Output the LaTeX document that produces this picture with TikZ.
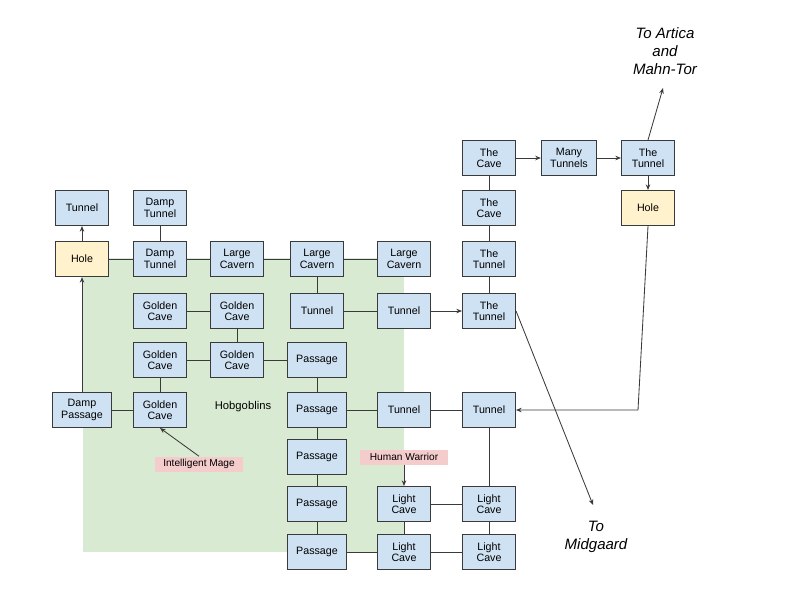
\documentclass[tikz,border=0pt]{standalone}
\usepackage{fontspec}
\setmainfont{Liberation Sans}
\usepackage{tikz}
\usetikzlibrary{arrows.meta,positioning}
\definecolor{boxblue}{HTML}{CFE2F3}
\definecolor{holeyellow}{HTML}{FFF2CC}
\definecolor{zonegreen}{HTML}{D9EAD3}
\definecolor{tagred}{HTML}{F4CCCC}
\definecolor{edgegray}{HTML}{3A3A3A}

\begin{document}
\begin{tikzpicture}[
  x=0.025cm, y=-0.025cm,
  room/.style={draw=edgegray, line width=0.75pt, fill=boxblue, minimum width=1.325cm, minimum height=0.875cm, inner xsep=0.22cm, inner ysep=0pt, align=center, font=\fontsize{7.6}{8.2}\selectfont},
  hole/.style={room, fill=holeyellow},
  tag/.style={fill=tagred, minimum width=2.2cm, minimum height=0.375cm, inner sep=0pt, font=\fontsize{7.2}{8}\selectfont},
  link/.style={draw=edgegray, line width=0.6pt},
  arrow/.style={link, -{Stealth[length=4pt,width=3.2pt]}},
  exit/.style={align=center, font=\fontsize{10.7}{12.8}\selectfont\itshape},
]
\useasboundingbox (0,0) rectangle (800,600);
% Hobgoblin zone
\fill[zonegreen] (83,258) rectangle (404,552);
\node[font=\fontsize{8}{9}\selectfont] (hob) at (243,407) {Hobgoblins};

% Nodes, west part
\node[room] (tunA) at (82,208) {Tunnel};
\node[hole] (holeA) at (82,259) {Hole};
\node[room] (dpass) at (82,410) {Damp\\Passage};
\node[room] (dtunA) at (160,208) {Damp\\Tunnel};
\node[room] (dtunB) at (160,259) {Damp\\Tunnel};
\node[room] (cavA) at (237,259) {Large\\Cavern};
\node[room] (cavB) at (317,259) {Large\\Cavern};
\node[room] (cavC) at (404,259) {Large\\Cavern};
\node[room] (tunB) at (317,311) {Tunnel};
\node[room] (tunC) at (404,311) {Tunnel};
\node[room] (gold1) at (160,311) {Golden\\Cave};
\node[room] (gold2) at (237,311) {Golden\\Cave};
\node[room] (gold3) at (160,360) {Golden\\Cave};
\node[room] (gold4) at (237,360) {Golden\\Cave};
\node[room] (gold5) at (160,410) {Golden\\Cave};
\node[room] (pass1) at (317,360) {Passage};
\node[room] (pass2) at (317,410) {Passage};
\node[room] (pass3) at (317,457) {Passage};
\node[room] (pass4) at (317,504) {Passage};
\node[room] (pass5) at (317,552) {Passage};
\node[room] (tunD) at (404,410) {Tunnel};
\node[room] (tunE) at (489,410) {Tunnel};
\node[room] (light1) at (404,504) {Light\\Cave};
\node[room] (light2) at (489,504) {Light\\Cave};
\node[room] (light3) at (404,552) {Light\\Cave};
\node[room] (light4) at (489,552) {Light\\Cave};

% Nodes, east part
\node[room] (cave1) at (489,158) {The\\Cave};
\node[room] (cave2) at (489,208) {The\\Cave};
\node[room] (ttun1) at (489,259) {The\\Tunnel};
\node[room] (ttun2) at (489,311) {The\\Tunnel};
\node[room] (many) at (569,158) {Many\\Tunnels};
\node[room] (ttun3) at (648,158) {The\\Tunnel};
\node[hole] (holeB) at (648,208) {Hole};

% Labels
\node[tag] (mage) at (199,464) {Intelligent Mage};
\node[tag] (warrior) at (404,457) {Human Warrior};
\node[exit] (artica) at (665,51) {To Artica\\and\\Mahn-Tor};
\node[exit] (midg) at (596,537) {To\\Midgaard};
\coordinate (artEnd) at (663,88);
\coordinate (midEnd) at (593,505);
\coordinate (bendR) at (638,410);

% Passages
\draw[arrow] (holeA) -- (tunA);
\draw[arrow] (dpass) -- (holeA);
\draw[link] (holeA) -- (dtunB);
\draw[link] (dtunA) -- (dtunB);
\draw[link] (dtunB) -- (cavA);
\draw[link] (cavA) -- (cavB);
\draw[link] (cavB) -- (cavC);
\draw[link] (cavB) -- (tunB);
\draw[link] (tunB) -- (tunC);
\draw[arrow] (tunC) -- (ttun2);
\draw[link] (gold1) -- (gold2);
\draw[link] (gold2) -- (gold4);
\draw[link] (gold3) -- (gold4);
\draw[link] (gold4) -- (pass1);
\draw[link] (gold3) -- (gold5);
\draw[link] (dpass) -- (gold5);
\draw[link] (pass1) -- (pass2);
\draw[link] (pass2) -- (pass3);
\draw[link] (pass3) -- (pass4);
\draw[link] (pass4) -- (pass5);
\draw[link] (pass2) -- (tunD);
\draw[link] (tunD) -- (tunE);
\draw[link] (tunE) -- (light2);
\draw[link] (light1) -- (light2);
\draw[link] (light1) -- (light3);
\draw[link] (light2) -- (light4);
\draw[link] (pass5) -- (light3);
\draw[link] (light3) -- (light4);
\draw[link] (cave1) -- (cave2);
\draw[link] (cave2) -- (ttun1);
\draw[link] (ttun1) -- (ttun2);
\draw[arrow] (cave1) -- (many);
\draw[arrow] (many) -- (ttun3);
\draw[arrow] (ttun3) -- (holeB);
\draw[arrow] (ttun3.north) -- (artEnd);
\draw[arrow] (holeB.south) -- (bendR) -- (tunE.east);
\draw[arrow] (ttun2.east) -- (midEnd);
\draw[arrow] (mage.north) -- (gold5.south);
\draw[arrow] (warrior) -- (light1);
\end{tikzpicture}
\end{document}
